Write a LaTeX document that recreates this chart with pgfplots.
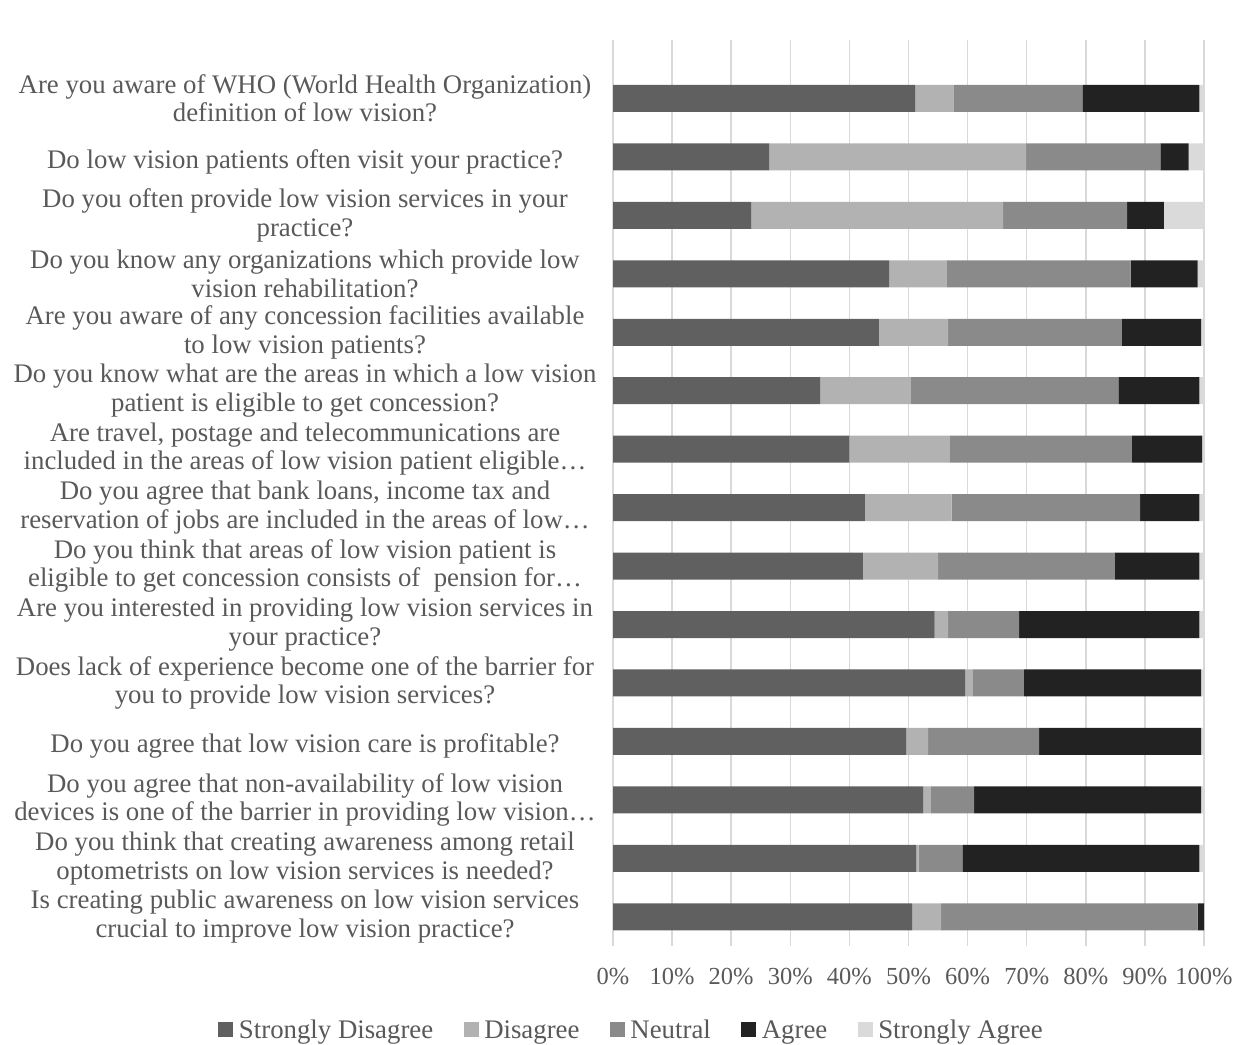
\documentclass[border=0pt]{standalone}
\usepackage{fontspec}
\setmainfont{Liberation Serif}
\usepackage{pgfplots}
\usepackage{pgfplotstable}
\pgfplotsset{compat=1.18}
\definecolor{cSD}{HTML}{606060}
\definecolor{cD}{HTML}{B2B2B2}
\definecolor{cN}{HTML}{8A8A8A}
\definecolor{cA}{HTML}{222222}
\definecolor{cSA}{HTML}{DADADA}
\definecolor{txt}{HTML}{595959}
\definecolor{grd}{HTML}{D9D9D9}
\pgfplotstableread{
y sd d n a sa
15 51.1 6.5 21.8 19.8 0.8
14 26.4 43.5 22.7 4.8 2.6
13 23.4 42.6 21.0 6.2 6.8
12 46.7 9.7 31.2 11.3 1.1
11 45.0 11.7 29.4 13.4 0.5
10 35.1 15.2 35.2 13.7 0.8
9 40.0 17.0 30.8 11.9 0.3
8 42.6 14.7 31.9 10.0 0.8
7 42.3 12.7 29.9 14.3 0.8
6 54.4 2.3 12.0 30.5 0.8
5 59.6 1.2 8.7 30.0 0.5
4 49.6 3.7 18.8 27.4 0.5
3 52.5 1.3 7.3 38.4 0.5
2 51.3 0.4 7.4 40.1 0.8
1 50.6 4.9 43.4 1.1 0.0
}\data
\newcommand{\lf}{\fontsize{26.8bp}{28.5bp}\selectfont}
\newcommand{\tf}{\fontsize{24.5bp}{28bp}\selectfont}
\begin{document}
\begin{tikzpicture}
\useasboundingbox (0,0) rectangle (1235bp,-1045bp);
\begin{axis}[
  at={(613bp,-946bp)}, anchor=south west,
  scale only axis, width=591bp, height=906bp,
  xbar stacked, bar width=27bp,
  xmin=0, xmax=100, ymin=0.5, ymax=16,
  axis line style={draw=none},
  xtick={0,10,...,100},
  xticklabels={0\%,10\%,20\%,30\%,40\%,50\%,60\%,70\%,80\%,90\%,100\%},
  xmajorgrids, grid style={grd, line width=1.5bp},
  major tick length=0pt,
  xticklabel style={font=\tf, text=txt, yshift=-19bp},
  ytick={1,...,15},
  yticklabels={
    {Is creating public awareness on low vision services\\crucial to improve low vision practice?},
    {Do you think that creating awareness among retail\\optometrists on low vision services is needed?},
    {Do you agree that non-availability of low vision\\devices is one of the barrier in providing low vision…},
    {\mbox{}\\Do you agree that low vision care is profitable?},
    {Does lack of experience become one of the barrier for\\you to provide low vision services?},
    {Are you interested in providing low vision services in\\your practice?},
    {Do you think that areas of low vision patient is\\eligible to get concession consists of\ \ pension for…},
    {Do you agree that bank loans, income tax and\\reservation of jobs are included in the areas of low…},
    {Are travel, postage and telecommunications are\\included in the areas of low vision patient eligible…},
    {Do you know what are the areas in which a low vision\\patient is eligible to get concession?},
    {Are you aware of any concession facilities available\\to low vision patients?},
    {Do you know any organizations which provide low\\vision rehabilitation?},
    {Do you often provide low vision services in your\\practice?},
    {\mbox{}\\Do low vision patients often visit your practice?},
    {Are you aware of WHO (World Health Organization)\\definition of low vision?}
  },
  yticklabel style={font=\lf, text=txt, align=center, anchor=center, xshift=-308bp, inner sep=0pt},
  legend columns=5,
  legend style={draw=none, at={(0.032,-0.0927)}, anchor=center, font=\lf, text=txt,
    nodes={inner xsep=2.5bp},
    /tikz/every even column/.append style={column sep=28bp}},
  legend image code/.code={\fill[#1] (0bp,-7.5bp) rectangle (15bp,7.5bp); \path (18bp,0bp);},
]
\addplot[fill=cSD, draw=none] table[x=sd, y=y]{\data};
\addplot[fill=cD, draw=none] table[x=d, y=y]{\data};
\addplot[fill=cN, draw=none] table[x=n, y=y]{\data};
\addplot[fill=cA, draw=none] table[x=a, y=y]{\data};
\addplot[fill=cSA, draw=none] table[x=sa, y=y]{\data};
\legend{Strongly Disagree, Disagree, Neutral, Agree, Strongly Agree}
\end{axis}
\end{tikzpicture}
\end{document}
